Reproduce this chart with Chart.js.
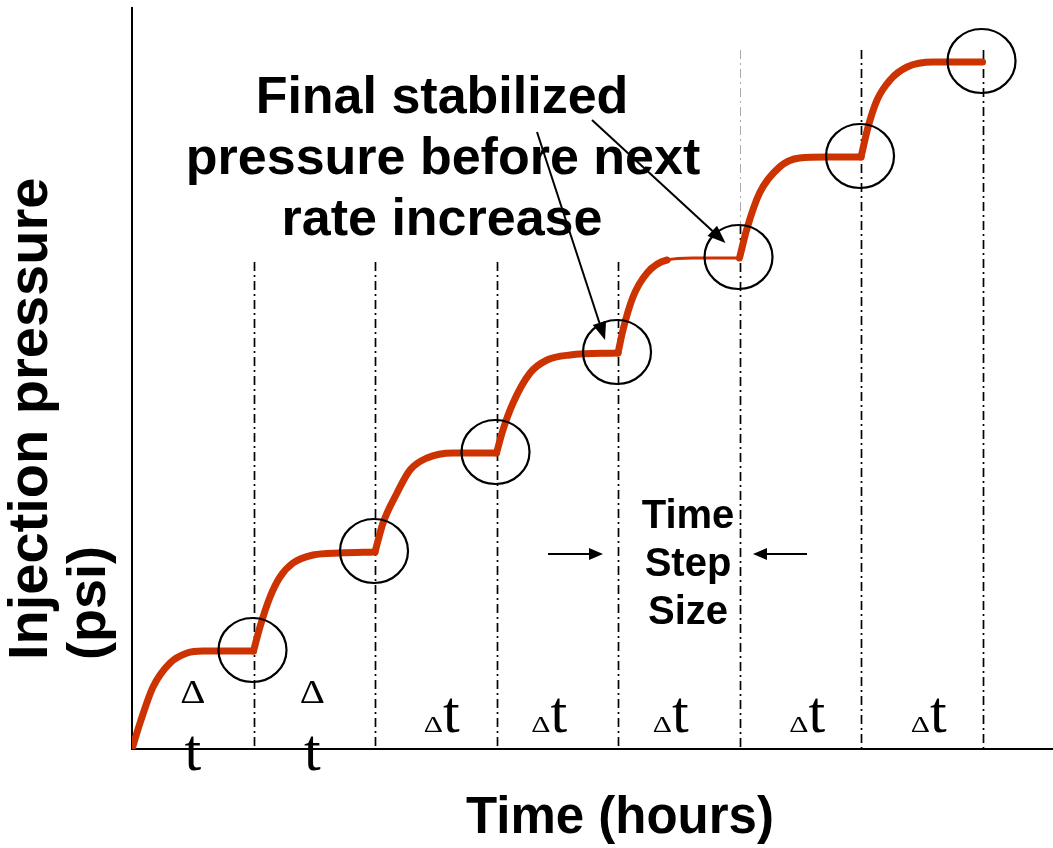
<!DOCTYPE html>
<html>
<head>
<meta charset="utf-8">
<script src="https://cdn.jsdelivr.net/npm/chart.js@4/dist/chart.umd.min.js"></script>
<style>
    html, body { margin: 0; padding: 0; background: #ffffff; }
    #wrap { width: 1053px; height: 848px; position: relative; }
</style>
</head>
<body>
<div id="wrap"><canvas id="stepChart"></canvas></div>
<script>
// time in steps (one unit = one Δt), pressure in relative psi
// a null pressure breaks the line at each rate increase so the corner stays sharp
const timeHours = [
    0, 0.066, 0.173, 0.313, 0.453, 0.584, 1, 1,
    1, 1.053, 1.136, 1.218, 1.325, 1.49, 1.712, 2, 2,
    2, 2.066, 2.181, 2.288, 2.428, 2.642, 3, 3,
    3, 3.053, 3.136, 3.276, 3.416, 3.605, 4, 4,
    4, 4.041, 4.123, 4.239, 4.403, 4.617, 5, 5,
    5, 5.058, 5.165, 5.33, 5.494, 5.716, 6, 6,
    6, 6.058, 6.132, 6.239, 6.379, 6.593, 7
];
const pressurePsi = [
    0, 0.26, 0.62, 0.86, 0.96, 0.98, 0.98, null,
    0.98, 1.22, 1.52, 1.72, 1.86, 1.94, 1.96, 1.97, null,
    1.97, 2.26, 2.56, 2.79, 2.91, 2.96, 2.96, null,
    2.96, 3.19, 3.46, 3.76, 3.89, 3.94, 3.96, null,
    3.96, 4.19, 4.52, 4.76, 4.89, 4.91, 4.91, null,
    4.91, 5.19, 5.56, 5.82, 5.91, 5.92, 5.92, null,
    5.92, 6.22, 6.49, 6.69, 6.82, 6.87, 6.87
];
// rate increases (end of each step) and the top of each dash-dot guide
const stepTimes = [1, 2, 3, 4, 5, 6, 7];
const guideTops = [4.87, 4.87, 4.87, 4.87, 6.99, 6.99, 6.99];
// part of the 5th plateau that is drawn thin
const thinFrom = 4.4;
const thinTo = 5;
// Δt labels: first two are wrapped onto two lines
const stepLabels = ['Δ\nt', 'Δ\nt', 'Δt', 'Δt', 'Δt', 'Δt', 'Δt'];
const labelShift = [0, -2, 6, -8, -8, 7, 7];

const xMax = 7.58;
const yMax = 7.41;
const curveRed = '#cc3300';
const sans = '"Liberation Sans", Arial, sans-serif';
const serif = '"Liberation Serif", "Times New Roman", serif';

//Точки кривой из двух массивов
let points = [];
for (let i = 0; i < timeHours.length; i++)
    points.push({ x: timeHours[i], y: pressurePsi[i] });

//Давление в конце каждой ступени
function cornerPsi(t) {
    for (let i = 0; i < timeHours.length; i++)
        if (timeHours[i] === t && pressurePsi[i] !== null && (i + 1 >= timeHours.length || pressurePsi[i + 1] === null))
            return pressurePsi[i];
    return 0;
}

function arrow(ctx, x1, y1, x2, y2, head, half) {
    let ang = Math.atan2(y2 - y1, x2 - x1);
    ctx.beginPath();
    ctx.moveTo(x1, y1);
    ctx.lineTo(x2 - Math.cos(ang) * head * 0.8, y2 - Math.sin(ang) * head * 0.8);
    ctx.stroke();
    ctx.beginPath();
    ctx.moveTo(x2, y2);
    ctx.lineTo(x2 - Math.cos(ang) * head - Math.sin(ang) * half, y2 - Math.sin(ang) * head + Math.cos(ang) * half);
    ctx.lineTo(x2 - Math.cos(ang) * head + Math.sin(ang) * half, y2 - Math.sin(ang) * head - Math.cos(ang) * half);
    ctx.closePath();
    ctx.fill();
}

//Δ немного шире, чем в шрифте
function wideDelta(ctx, x, y, size) {
    ctx.save();
    ctx.translate(x, y);
    ctx.scale(1.3, 1);
    ctx.font = size + 'px ' + serif;
    ctx.textAlign = 'left';
    ctx.fillText('Δ', 0, 0);
    let w = ctx.measureText('Δ').width * 1.3;
    ctx.restore();
    return w;
}

const overlay = {
    id: 'overlay',
    beforeDatasetsDraw(chart) {
        const ctx = chart.ctx;
        const xs = chart.scales.x, ys = chart.scales.y;
        const bottom = ys.getPixelForValue(0);
        ctx.save();
        ctx.lineWidth = 1.7;
        ctx.setLineDash([9, 4, 2, 4]);
        stepTimes.forEach((t, i) => {
            let x = Math.round(xs.getPixelForValue(t)) + 0.5;
            let top = ys.getPixelForValue(guideTops[i]);
            ctx.strokeStyle = '#000';
            ctx.beginPath();
            if (i === 4) {
                // upper part of this guide is pale and thin
                let mid = ys.getPixelForValue(cornerPsi(t)) - 33;
                ctx.moveTo(x, mid);
                ctx.lineTo(x, bottom);
                ctx.stroke();
                ctx.strokeStyle = '#aaaaaa';
                ctx.lineWidth = 1;
                ctx.beginPath();
                ctx.moveTo(x, top);
                ctx.lineTo(x, mid);
                ctx.stroke();
                ctx.lineWidth = 1.7;
            } else {
                ctx.moveTo(x, top);
                ctx.lineTo(x, bottom);
                ctx.stroke();
            }
        });
        ctx.restore();
    },
    afterDatasetsDraw(chart) {
        const ctx = chart.ctx;
        const xs = chart.scales.x, ys = chart.scales.y;
        ctx.save();

        // circles round each stabilized point
        ctx.strokeStyle = '#000';
        ctx.lineWidth = 2.2;
        stepTimes.forEach(t => {
            ctx.beginPath();
            ctx.ellipse(xs.getPixelForValue(t) - 1, ys.getPixelForValue(cornerPsi(t)) - 1, 34, 32, 0, 0, Math.PI * 2);
            ctx.stroke();
        });

        // callout text and arrows
        ctx.fillStyle = '#000';
        ctx.textAlign = 'center';
        ctx.textBaseline = 'alphabetic';
        ctx.font = 'bold 52px ' + sans;
        ctx.fillText('Final stabilized', 442, 113);
        ctx.fillText('pressure before next', 443, 174);
        ctx.fillText('rate increase', 442, 235);

        ctx.lineWidth = 2;
        arrow(ctx, 537, 132, xs.getPixelForValue(4) - 13, ys.getPixelForValue(cornerPsi(4)) - 13, 18, 7);
        arrow(ctx, 592, 120, xs.getPixelForValue(5) - 14, ys.getPixelForValue(cornerPsi(5)) - 15, 18, 7);

        // time step size
        ctx.font = 'bold 40px ' + sans;
        ctx.fillText('Time', 688, 528);
        ctx.fillText('Step', 688, 576);
        ctx.fillText('Size', 688, 624);
        arrow(ctx, 548, 554, 603, 554, 14, 6);
        arrow(ctx, 807, 554, 753, 554, 14, 6);

        // Δt labels
        stepTimes.forEach((t, i) => {
            let cx = xs.getPixelForValue(t - 0.5) + labelShift[i];
            let lab = stepLabels[i];
            if (lab.indexOf('\n') >= 0) {
                ctx.font = '34px ' + serif;
                let wd = ctx.measureText('Δ').width * 1.15;
                ctx.save();
                ctx.translate(cx - wd / 2, 703);
                ctx.scale(1.15, 1);
                ctx.textAlign = 'left';
                ctx.fillText('Δ', 0, 0);
                ctx.restore();
                ctx.textAlign = 'center';
                ctx.font = '60px ' + serif;
                ctx.fillText('t', cx, 770);
            } else {
                ctx.font = '23px ' + serif;
                let wd = ctx.measureText('Δ').width * 1.3;
                ctx.font = '60px ' + serif;
                let wt = ctx.measureText('t').width;
                let x0 = cx - (wd + wt) / 2;
                wideDelta(ctx, x0, 732, 23);
                ctx.textAlign = 'left';
                ctx.font = '60px ' + serif;
                ctx.fillText('t', x0 + wd, 732);
            }
        });

        // axis titles
        ctx.textAlign = 'center';
        ctx.font = 'bold 51px ' + sans;
        ctx.fillText('Time (hours)', 620, 833);

        ctx.translate(0, 660);
        ctx.rotate(-Math.PI / 2);
        ctx.textAlign = 'left';
        ctx.font = 'bold 56px ' + sans;
        ctx.fillText('Injection pressure', 0, 47);
        ctx.font = 'bold 54px ' + sans;
        ctx.fillText('(psi)', 0, 105);
        ctx.restore();
    }
};

new Chart(
    document.querySelector('#stepChart'),
    {
        type: 'line',
        data: {
            datasets: [
                {
                    data: points,
                    borderColor: curveRed,
                    borderWidth: 7,
                    borderCapStyle: 'round',
                    borderJoinStyle: 'round',
                    pointRadius: 0,
                    cubicInterpolationMode: 'monotone',
                    spanGaps: false,
                    segment: {
                        borderWidth: ctx => (ctx.p0.parsed.x >= thinFrom && ctx.p1.parsed.x <= thinTo) ? 3 : 7
                    }
                }
            ]
        },
        options: {
            responsive: true,
            maintainAspectRatio: false,
            animation: false,
            layout: {
                padding: { left: 132, top: 8, right: 0, bottom: 99 }
            },
            plugins: {
                legend: { display: false },
                tooltip: { enabled: false },
                title: { display: false }
            },
            scales: {
                x: {
                    type: 'linear',
                    min: 0,
                    max: xMax,
                    ticks: { display: false },
                    grid: { display: false, drawTicks: false },
                    border: { display: true, color: '#000', width: 2 }
                },
                y: {
                    min: 0,
                    max: yMax,
                    ticks: { display: false },
                    grid: { display: false, drawTicks: false },
                    border: { display: true, color: '#000', width: 2 }
                }
            }
        },
        plugins: [overlay]
    }
);
</script>
</body>
</html>
